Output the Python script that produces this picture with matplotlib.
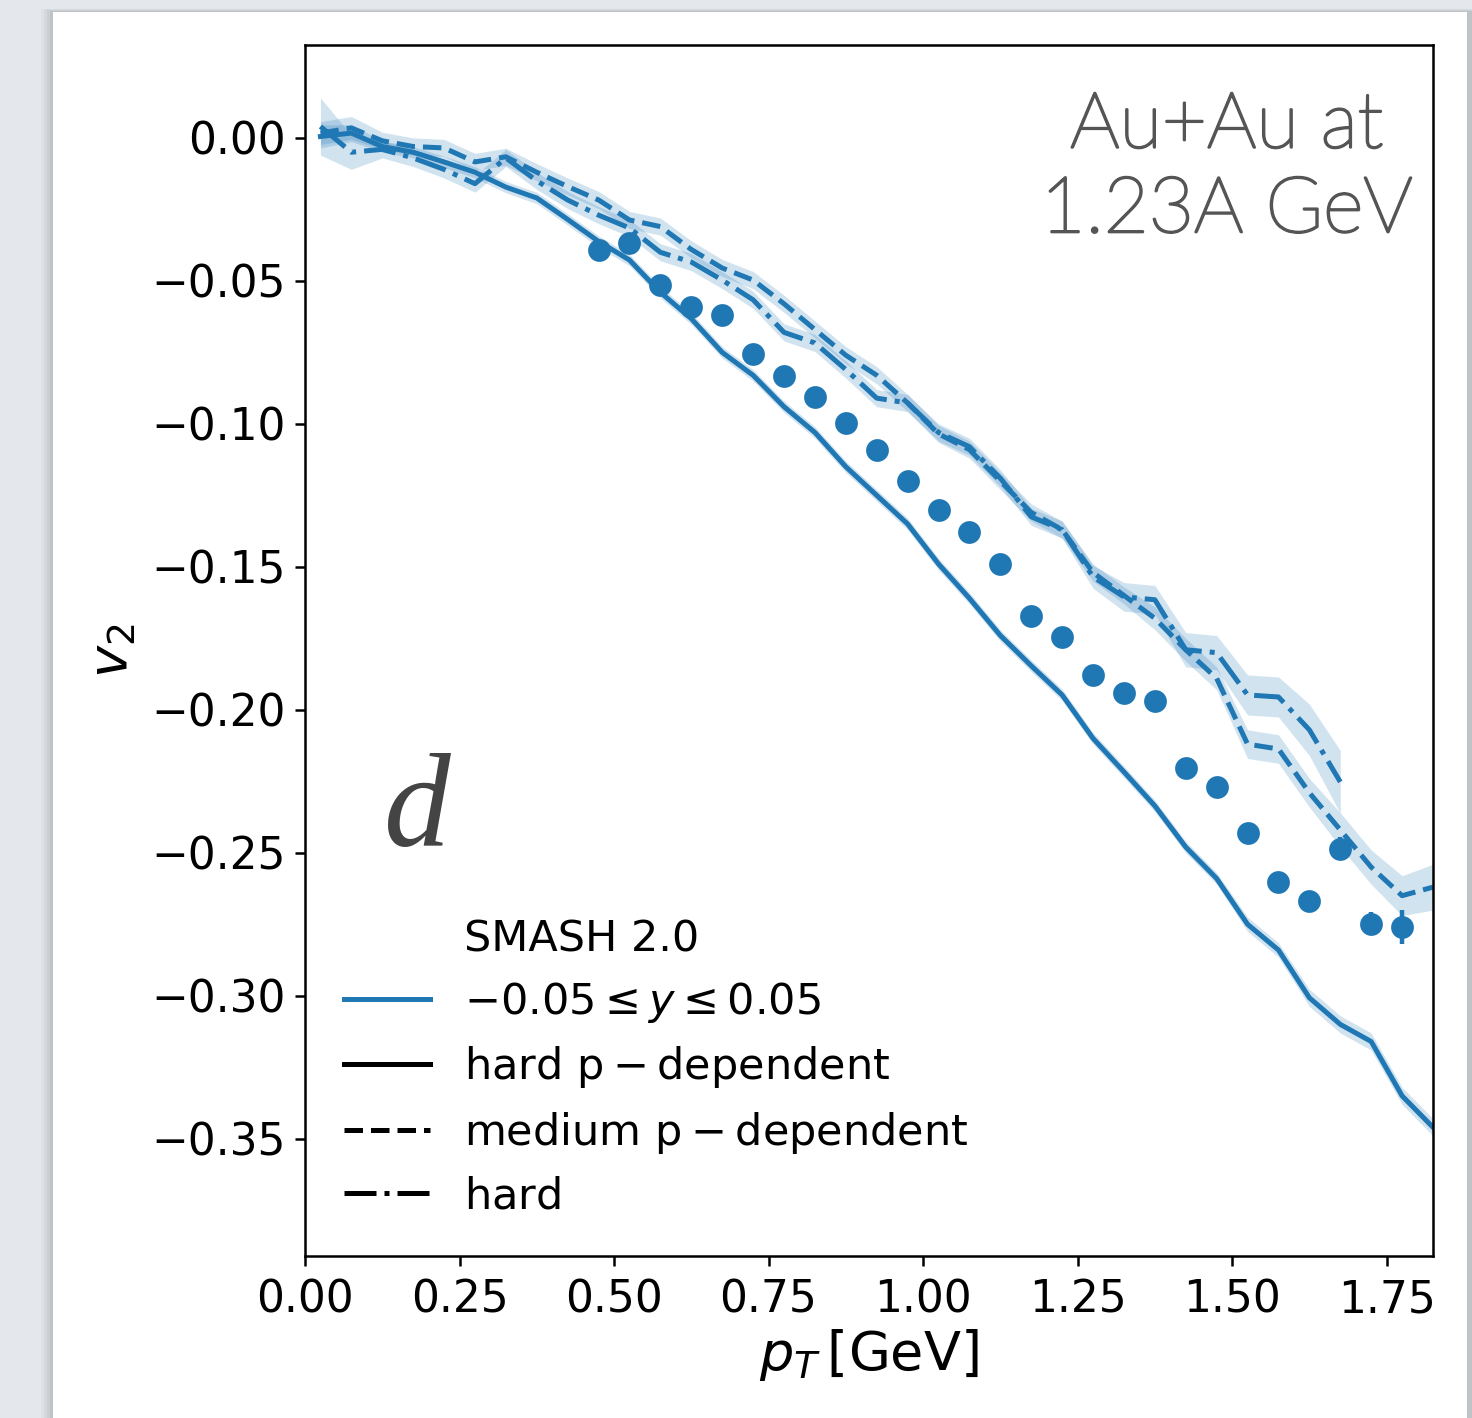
import numpy as np
import matplotlib
matplotlib.use("Agg")
import matplotlib.pyplot as plt
import matplotlib.patheffects as pe
from matplotlib.patches import Rectangle

# SMASH 2.0, -0.05 <= y <= 0.05, bin centres in pT
pt_model = np.arange(0.025, 1.83, 0.05)

v2_hard_pdep = [0.0005, 0.0017, -0.003, -0.005, -0.0084, -0.012, -0.0172, -0.021,
                -0.0285, -0.0362, -0.0427, -0.054, -0.0632, -0.075, -0.083, -0.094,
                -0.103, -0.115, -0.125, -0.135, -0.149, -0.161, -0.174, -0.1846,
                -0.1948, -0.210, -0.2217, -0.2336, -0.248, -0.259, -0.275, -0.284,
                -0.3007, -0.310, -0.316, -0.335, -0.346]
err_hard_pdep = [0.004, 0.003, 0.002, 0.002, 0.002, 0.002, 0.002, 0.002,
                 0.002, 0.002, 0.002, 0.002, 0.002, 0.002, 0.002, 0.002,
                 0.002, 0.002, 0.002, 0.002, 0.002, 0.002, 0.002, 0.002,
                 0.002, 0.002, 0.002, 0.002, 0.002, 0.002, 0.0025, 0.0025,
                 0.003, 0.003, 0.003, 0.003, 0.003]

v2_medium_pdep = [0.0017, 0.0035, -0.001, -0.003, -0.0035, -0.0084, -0.0066, -0.012,
                  -0.017, -0.0217, -0.0287, -0.031, -0.039, -0.0455, -0.0497, -0.058,
                  -0.067, -0.076, -0.083, -0.0927, -0.1035, -0.109, -0.120, -0.131,
                  -0.137, -0.152, -0.160, -0.168, -0.179, -0.189, -0.212, -0.2137,
                  -0.229, -0.242, -0.255, -0.265, -0.262]
err_medium_pdep = [0.004, 0.004, 0.003, 0.003, 0.003, 0.003, 0.003, 0.003,
                   0.003, 0.003, 0.003, 0.003, 0.003, 0.003, 0.003, 0.003,
                   0.003, 0.003, 0.003, 0.003, 0.003, 0.003, 0.003, 0.003,
                   0.003, 0.003, 0.003, 0.004, 0.004, 0.004, 0.005, 0.005,
                   0.005, 0.006, 0.006, 0.007, 0.008]

pt_hard = np.arange(0.025, 1.68, 0.05)
v2_hard = [0.004, -0.005, -0.004, -0.007, -0.011, -0.016, -0.007, -0.015,
           -0.0217, -0.027, -0.0315, -0.040, -0.0434, -0.0497, -0.0566, -0.068,
           -0.0717, -0.081, -0.091, -0.0927, -0.103, -0.108, -0.119, -0.1325,
           -0.137, -0.1535, -0.1605, -0.1615, -0.179, -0.180, -0.1948, -0.1955,
           -0.207, -0.2252]
err_hard = [0.010, 0.006, 0.003, 0.003, 0.003, 0.003, 0.003, 0.003,
            0.003, 0.003, 0.003, 0.003, 0.003, 0.003, 0.003, 0.003,
            0.003, 0.003, 0.003, 0.003, 0.003, 0.003, 0.003, 0.003,
            0.003, 0.004, 0.005, 0.005, 0.006, 0.006, 0.007, 0.007,
            0.009, 0.011]

# HADES data points
pt_data = np.arange(0.475, 1.78, 0.05)
v2_data = [-0.0392, -0.0367, -0.0514, -0.0591, -0.0619, -0.0755, -0.0832, -0.0906,
           -0.0997, -0.1091, -0.1199, -0.1301, -0.1378, -0.1490, -0.1671, -0.1745,
           -0.1878, -0.1941, -0.1969, -0.2203, -0.2269, -0.2430, -0.2601, -0.2668,
           -0.2486, -0.2748, -0.2759]
err_data = [0.001] * 24 + [0.004, 0.004, 0.006]

xticks = [0.0, 0.25, 0.5, 0.75, 1.0, 1.25, 1.5, 1.75]
yticks = [-0.35, -0.3, -0.25, -0.2, -0.15, -0.1, -0.05, 0.0]

blue = "#1f77b4"

fig = plt.figure(figsize=(7.36, 7.09), dpi=200)
fig.patch.set_facecolor("#e4e7ec")

# card with a soft shadow
for i, a in enumerate([0.04, 0.06, 0.08, 0.10]):
    d = (4 - i) * 3 / 1472
    fig.patches.append(Rectangle((53 / 1472 - d, 0), 1.0, 1 - 12 / 1418 + d * 0.3,
                                 transform=fig.transFigure, facecolor="#555a60",
                                 alpha=a, edgecolor="none", zorder=-3))
fig.patches.append(Rectangle((53 / 1472, 0), (1467 - 53) / 1472, 1 - 12 / 1418,
                             transform=fig.transFigure, facecolor="white",
                             edgecolor="none", zorder=-2))

ax = fig.add_axes([305 / 1472, 1 - 1256 / 1418, (1433 - 305) / 1472, (1256 - 45) / 1418])
ax.set_facecolor("white")

lw = 1.8
for x, y, e, ls in [(pt_model, v2_hard_pdep, err_hard_pdep, "-"),
                    (pt_model, v2_medium_pdep, err_medium_pdep, "--"),
                    (pt_hard, v2_hard, err_hard, "-.")]:
    y = np.array(y)
    e = np.array(e)
    ax.plot(x, y, ls=ls, color=blue, lw=lw)
    ax.fill_between(x, y - e, y + e, color=blue, alpha=0.2, lw=0)

ax.errorbar(pt_data, v2_data, yerr=err_data, fmt="o", color=blue, ms=7.2,
            elinewidth=1.6, capsize=0)

# legend
ax.plot([], [], " ", label="SMASH 2.0")
ax.plot([], [], "-", color=blue, lw=lw, label=r"$-0.05 \leq y \leq 0.05$")
ax.plot([], [], "-", color="k", lw=lw, label=r"$\mathrm{hard\ p-dependent}$")
ax.plot([], [], "--", color="k", lw=lw, label=r"$\mathrm{medium\ p-dependent}$")
ax.plot([], [], "-.", color="k", lw=lw, label=r"$\mathrm{hard}$")
ax.legend(loc="lower left", frameon=False, fontsize=15.5, labelspacing=0.45)

ax.set_xlim(0, 1.825)
ax.set_ylim(-0.391, 0.0325)
ax.set_xticks(xticks)
ax.set_yticks(yticks)
ax.tick_params(labelsize=15.8, width=0.9)
ax.tick_params(axis="x", pad=4.5)
for s in ax.spines.values():
    s.set_linewidth(0.9)

ax.set_xlabel(r"$p_T\,$[GeV]", fontsize=19.5, labelpad=2)
ax.set_ylabel(r"$v_2$", fontsize=19.5, labelpad=4.5)

ax.text(0.817, 0.898, "Au+Au at\n1.23A GeV", transform=ax.transAxes, ha="center",
        va="center", fontsize=28, color="#555555", family="Lato", weight="light",
        linespacing=1.25,
        path_effects=[pe.withStroke(linewidth=0.9, foreground="#555555")])
ax.text(0.10, 0.365, "d", transform=ax.transAxes, ha="center", va="center",
        fontsize=48, color="#444444", family="Liberation Serif", style="italic")

fig.savefig("out.png", dpi=200, facecolor=fig.get_facecolor())
